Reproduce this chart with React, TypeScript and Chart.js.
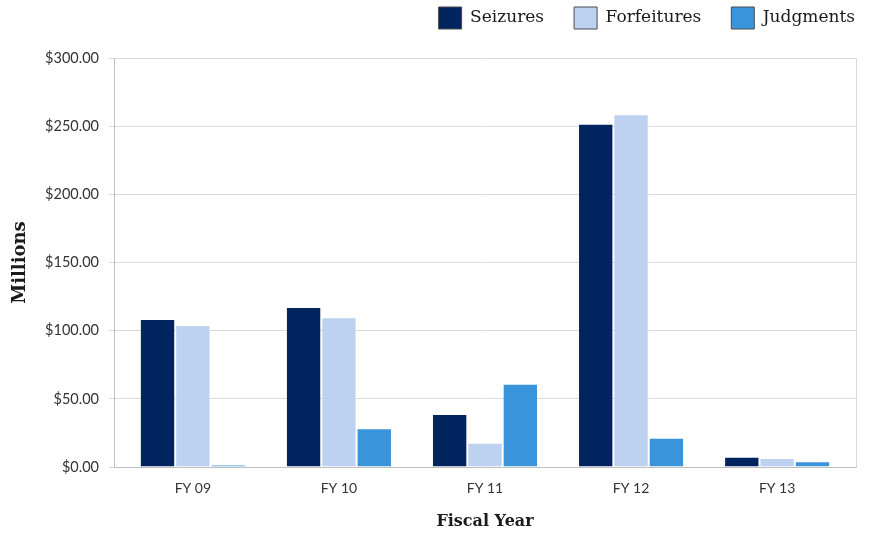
import { useEffect, useRef } from 'react';
import { Chart, registerables } from 'chart.js';

Chart.register(...registerables);

const categories = ['FY 09', 'FY 10', 'FY 11', 'FY 12', 'FY 13'];
const seizures = [108.6, 117.4, 38.9, 251.7, 7.6];
const forfeitures = [104.2, 109.8, 17.8, 258.8, 6.6];
const judgments = [1.8, 28.4, 61.0, 21.5, 4.2];
const yMin = 0;
const yMax = 300;
const yStep = 50;

const toPoints = (arr: number[]) => arr.map((v, i) => ({ x: i, y: v }));

export default function App() {
  const ref = useRef<HTMLCanvasElement>(null);

  useEffect(() => {
    if (!ref.current) return;

    const legendTweak = {
      id: 'legendTweak',
      beforeLayout(chart: any) {
        const lg = chart.legend;
        if (lg && !lg._tweaked) {
          lg._tweaked = true;
          const orig = lg.fit;
          lg.fit = function () {
            orig.call(this);
            this.height += 19;
            if (this.lineWidths && this.lineWidths.length) {
              this.lineWidths[0] += 1;
            }
          };
        }
      },
      afterLayout(chart: any) {
        const lg = chart.legend;
        if (lg) {
          lg.left += 30;
          lg.right += 30;
        }
      },
    };

    const rightBorder = {
      id: 'rightBorder',
      beforeDatasetsDraw(chart: any) {
        const { ctx, chartArea } = chart;
        ctx.save();
        ctx.strokeStyle = '#d9d9d9';
        ctx.lineWidth = 1;
        ctx.beginPath();
        const x = Math.round(chartArea.right) + 0.5;
        ctx.moveTo(x, chartArea.top);
        ctx.lineTo(x, chartArea.bottom);
        ctx.stroke();
        ctx.restore();
      },
    };

    const chart = new Chart(ref.current, {
      type: 'bar',
      data: {
        datasets: [
          {
            label: 'Seizures',
            data: toPoints(seizures),
            backgroundColor: '#00255e',
            borderColor: 'rgba(255,255,255,0.18)',
            borderWidth: 1,
          },
          {
            label: 'Forfeitures',
            data: toPoints(forfeitures),
            backgroundColor: '#bdd2f0',
            borderColor: 'rgba(255,255,255,0.4)',
            borderWidth: 1,
          },
          {
            label: 'Judgments',
            data: toPoints(judgments),
            backgroundColor: '#3a94dc',
            borderColor: 'rgba(255,255,255,0.25)',
            borderWidth: 1,
          },
        ],
      },
      options: {
        animation: false,
        responsive: true,
        maintainAspectRatio: false,
        layout: { padding: { top: -23, right: 15, left: 0, bottom: 0 } },
        datasets: {
          bar: { categoryPercentage: 0.726, barPercentage: 1 },
        },
        plugins: {
          tooltip: { enabled: false },
          legend: {
            position: 'top',
            align: 'end',
            labels: {
              boxWidth: 23,
              boxHeight: 22,
              padding: 30,
              color: '#1a1a1a',
              font: { family: 'DejaVu Serif', size: 17 },
              generateLabels(chart: any) {
                const items = (Chart.defaults.plugins.legend.labels as any).generateLabels(chart);
                return items.map((it: any) => ({ ...it, strokeStyle: '#4a4a4a', lineWidth: 1 }));
              },
            },
          },
        },
        scales: {
          x: {
            type: 'linear',
            min: -0.54,
            max: categories.length - 1 + 0.54,
            offset: false,
            grid: { display: false, drawTicks: false },
            border: { color: '#bfbfbf' },
            ticks: {
              stepSize: 1,
              includeBounds: false,
              autoSkip: false,
              maxRotation: 0,
              color: '#333333',
              padding: 13,
              font: { family: 'Lato', size: 14 },
              callback: (v: any) => {
                const i = Number(v);
                return Number.isInteger(i) && categories[i] ? categories[i] : '';
              },
            },
            title: {
              display: true,
              text: 'Fiscal Year',
              color: '#1a1a1a',
              font: { family: 'DejaVu Serif', size: 16, weight: 'bold' },
              padding: { top: 14, bottom: 2 },
            },
            afterFit(scale: any) {
              scale.height = 66;
            },
          },
          y: {
            min: yMin,
            max: yMax,
            ticks: {
              stepSize: yStep,
              color: '#333333',
              padding: 10,
              font: { family: 'Lato', size: 14.5 },
              callback: (v: any) => '$' + Number(v).toFixed(2),
            },
            grid: { color: '#d9d9d9', tickLength: 5, lineWidth: 1 },
            border: { color: '#bfbfbf' },
            title: {
              display: true,
              text: 'Millions',
              color: '#1a1a1a',
              font: { family: 'DejaVu Serif', size: 18, weight: 'bold' },
              padding: { top: 10, bottom: 0 },
            },
            afterFit(scale: any) {
              scale.width = 114;
            },
          },
        },
      },
      plugins: [legendTweak, rightBorder],
    } as any);

    return () => chart.destroy();
  }, []);

  return (
    <div style={{ position: 'absolute', left: 0, top: 0, width: 871, height: 533 }}>
      <canvas ref={ref} style={{ width: '100%', height: '100%' }} />
    </div>
  );
}
